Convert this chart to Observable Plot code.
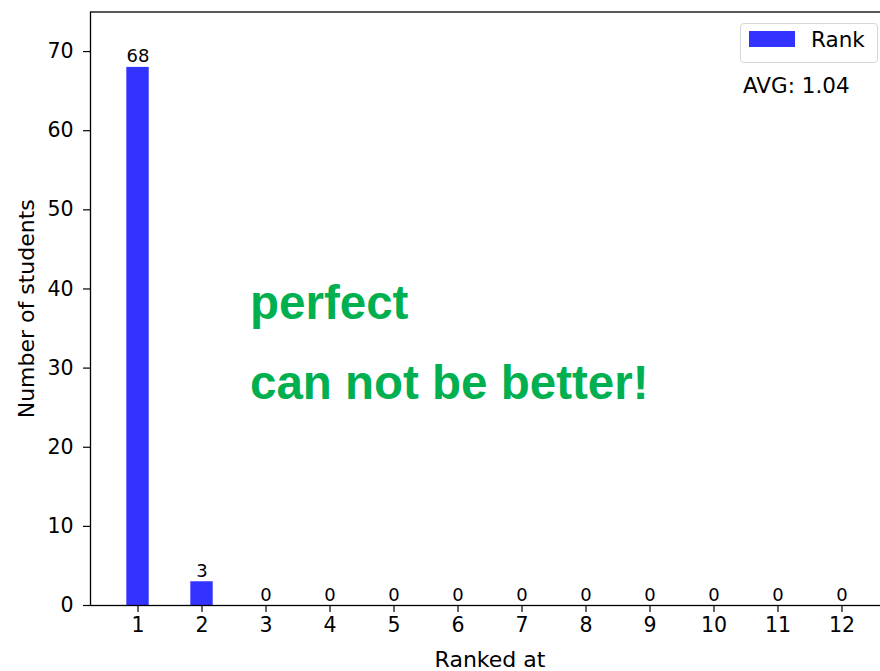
<!DOCTYPE html>
<html><head><meta charset="utf-8">
<script src="https://cdn.jsdelivr.net/npm/d3@7"></script>
<script src="https://cdn.jsdelivr.net/npm/@observablehq/plot@0.6"></script>
<style>
html,body{margin:0;padding:0;background:#fff;overflow:hidden;}
#wrap{position:relative;width:880px;height:671px;overflow:hidden;}
#wrap svg{overflow:hidden;display:block;}
.legend{position:absolute;left:740px;top:22.7px;width:138px;height:40px;box-sizing:border-box;border:1px solid #d6d6d6;border-radius:4px;background:rgba(255,255,255,0.8);}
.legend .patch{position:absolute;left:8.3px;top:7.3px;width:45.7px;height:16.3px;background:#3333ff;}
.txt{position:absolute;font-family:"DejaVu Sans";font-size:21.5px;line-height:20px;color:#000;white-space:nowrap;}
</style></head>
<body><div id="wrap"></div>
<script>
const ranks = [1,2,3,4,5,6,7,8,9,10,11,12];
const counts = [68,3,0,0,0,0,0,0,0,0,0,0];
const seriesName = "Rank";
const avgLabel = "AVG: 1.04";
const yTicks = [0,10,20,30,40,50,60,70];
const notes = ["perfect", "can not be better!"];
const xLabel = "Ranked at";
const yLabel = "Number of students";
const barWidth = 0.35;

const data = ranks.map((r, i) => ({rank: r, count: counts[i]}));

const chart = Plot.plot({
  width: 880, height: 671,
  marginLeft: 90, marginRight: -9, marginTop: 11.5, marginBottom: 66,
  style: {fontFamily: "DejaVu Sans", fontSize: "20.5px", color: "#000", background: "#fff", overflow: "hidden"},
  x: {type: "linear", domain: [0.2575, 12.7425]},
  y: {domain: [0, 75]},
  marks: [
    Plot.rectY(data, {x1: d => d.rank - barWidth / 2, x2: d => d.rank + barWidth / 2, y: "count", fill: "#3333ff"}),
    Plot.text(data, {x: "rank", y: "count", text: d => String(d.count), lineAnchor: "bottom", dy: -5, fontSize: 18, fill: "#000"}),
    Plot.axisX(ranks, {tickSize: 7, tickPadding: 5, label: null, stroke: "#000", strokeWidth: 1.2, fill: "#000", fontSize: 20.5}),
    Plot.axisY(yTicks, {tickSize: 7, tickPadding: 10, label: null, stroke: "#000", strokeWidth: 1.2, fill: "#000", fontSize: 20.5}),
    Plot.frame({stroke: "#000", strokeWidth: 1.3}),
    Plot.text([xLabel], {frameAnchor: "bottom", dy: 61.5, lineAnchor: "bottom", fontSize: 22, fill: "#000"}),
    Plot.text([yLabel], {frameAnchor: "left", rotate: -90, textAnchor: "middle", dx: -56.5, lineAnchor: "bottom", fontSize: 22, fill: "#000"}),
    Plot.text([notes[0]], {frameAnchor: "top-left", textAnchor: "start", lineAnchor: "bottom", dx: 159.5, dy: 306.5, fontSize: 47.5, fontWeight: "bold", fontFamily: "Liberation Sans", fill: "#00b050"}),
    Plot.text([notes[1]], {frameAnchor: "top-left", textAnchor: "start", lineAnchor: "bottom", dx: 159.5, dy: 386.5, fontSize: 47.5, fontWeight: "bold", fontFamily: "Liberation Sans", fill: "#00b050"})
  ]
});

const wrap = document.getElementById("wrap");
wrap.appendChild(chart);

const legend = document.createElement("div");
legend.className = "legend";
const patch = document.createElement("div");
patch.className = "patch";
legend.appendChild(patch);
const lt = document.createElement("div");
lt.className = "txt";
lt.style.left = "70px";
lt.style.top = "6px";
lt.textContent = seriesName;
legend.appendChild(lt);
wrap.appendChild(legend);

const avg = document.createElement("div");
avg.className = "txt";
avg.style.left = "743px";
avg.style.top = "75.6px";
avg.textContent = avgLabel;
wrap.appendChild(avg);
</script>
</body></html>
